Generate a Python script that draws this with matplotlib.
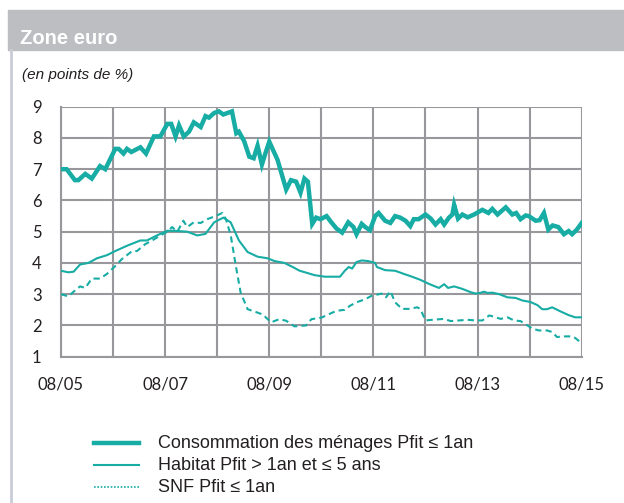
import matplotlib
matplotlib.use("Agg")
import matplotlib.pyplot as plt
from matplotlib.lines import Line2D
from matplotlib.patches import Rectangle

# Months elapsed since August 2005, with the rate spread (points of %)
conso_m = [0, 1.3, 3.2, 4, 5.6, 7.1, 9, 10.2, 12.5, 13.3, 14.4, 15.2, 16.2, 18.3, 19.6,
           21.4, 22.9, 24.5, 25.4, 26.4, 27.2, 28.3, 29.5, 30.6, 32.2, 33.3, 34.1, 35.3,
           36.4, 37.4, 39.4, 40.4, 41, 42.2, 43.4, 44.4, 45.3, 46.3, 47.2, 48, 49.9, 51.9,
           53, 54.2, 55.2, 56.1, 56.9, 57.9, 58.8, 59.8, 61.2, 62.3, 63.5, 64.8, 66.2,
           67.4, 68.1, 69.3, 70.1, 71.2, 72.4, 73.2, 74.7, 75.9, 77.0, 78.2, 79.4, 80.5,
           81.3, 82.4, 84.0, 85.2, 86.3, 87.5, 88.3, 89.4, 90.2, 90.6, 91.5, 92.5, 93.7,
           95.2, 97.1, 98.5, 99.4, 100.6, 102.5, 104.0, 104.9, 105.9, 107.1, 107.8, 109.4,
           110.3, 111.3, 112.3, 113.3, 114.6, 115.9, 117.0, 117.8, 118.9, 120]
conso_v = [7.0, 7.0, 6.65, 6.65, 6.85, 6.7, 7.1, 7.0, 7.65, 7.65, 7.5, 7.65, 7.55, 7.7, 7.5,
           8.05, 8.05, 8.45, 8.45, 8.05, 8.4, 8.05, 8.2, 8.5, 8.35, 8.7, 8.65, 8.8,
           8.85, 8.75, 8.85, 8.15, 8.2, 7.9, 7.4, 7.35, 7.75, 7.15, 7.55, 7.88, 7.3, 6.35,
           6.65, 6.6, 6.25, 6.7, 6.6, 5.25, 5.45, 5.4, 5.5, 5.3, 5.1, 4.97, 5.3,
           5.15, 4.92, 5.25, 5.15, 5.05, 5.5, 5.6, 5.35, 5.28, 5.5, 5.45, 5.35, 5.18,
           5.4, 5.4, 5.55, 5.42, 5.23, 5.4, 5.23, 5.45, 5.55, 5.86, 5.42, 5.55, 5.46,
           5.55, 5.7, 5.6, 5.73, 5.55, 5.78, 5.55, 5.6, 5.4, 5.52, 5.5, 5.35,
           5.37, 5.6, 5.07, 5.2, 5.15, 4.92, 5.02, 4.92, 5.07, 5.28]

habitat_m = [0, 1.7, 2.9, 4.4, 6.3, 8.3, 10.6, 12.5, 15.2, 18.3, 19.8, 22.1, 24.5, 26.0,
             29.1, 31.4, 33.3, 35.3, 37.4, 39.1, 41.0, 43.0, 45.3, 47.6, 49.2, 51.5, 53.4,
             55.0, 56.5, 58.4, 60.8, 64.3, 65.4, 66.3, 67.1, 68.1, 69.3, 70.8, 72.4, 72.8,
             74.7, 77.0, 79.0, 80.9, 82.8, 84.8, 87.1, 88.3, 89.2, 90.6, 92.5, 94.5, 95.6,
             96.8, 97.5, 98.3, 99.4, 101.0, 102.9, 104.8, 106.3, 108.2, 109.8, 110.9,
             112.0, 113.2, 115.1, 117.0, 118.5, 120]
habitat_v = [3.75, 3.7, 3.72, 3.95, 4.0, 4.15, 4.25, 4.38, 4.55, 4.72, 4.72, 4.88, 5.03, 5.03,
             5.0, 4.88, 4.93, 5.3, 5.45, 5.3, 4.72, 4.35, 4.2, 4.15, 4.06, 4.0, 3.87,
             3.75, 3.69, 3.61, 3.56, 3.56, 3.75, 3.87, 3.82, 4.03, 4.08, 4.06, 4.0, 3.87,
             3.77, 3.75, 3.65, 3.56, 3.46, 3.33, 3.2, 3.32, 3.2, 3.25, 3.17, 3.06, 3.02,
             3.05, 3.08, 3.04, 3.05, 3.0, 2.9, 2.88, 2.8, 2.75, 2.65, 2.52,
             2.52, 2.58, 2.45, 2.33, 2.26, 2.26]

snf_m = [0, 1.7, 2.9, 4.4, 5.6, 7.1, 9.0, 10.6, 12.5, 14.0, 16.4, 17.5, 19.4, 21.0, 22.9,
         24.5, 25.6, 26.8, 28.2, 29.1, 30.6, 32.2, 33.7, 35.6, 37.2, 38.0, 39.1, 40.3,
         41.4, 43.0, 44.5, 46.5, 48.4, 50.3, 51.9, 53.8, 56.5, 57.7, 60.0, 61.9, 63.5,
         65.4, 66.6, 68.1, 70.1, 71.6, 73.9, 74.9, 75.9, 77.0, 78.6, 80.1, 82.1, 82.8,
         84.0, 85.5, 88.3, 89.8, 91.7, 93.7, 95.6, 97.1, 98.7, 99.8, 101.3, 102.9, 104.4,
         105.9, 107.5, 108.6, 110.1, 112.0, 113.2, 114.3, 116.2, 117.8, 118.5, 120]
snf_v = [3.0, 2.93, 3.08, 3.25, 3.2, 3.5, 3.5, 3.65, 3.9, 4.12, 4.38, 4.38, 4.6, 4.72, 4.88,
         5.0, 5.15, 5.0, 5.35, 5.15, 5.3, 5.28, 5.4, 5.5, 5.6, 5.4, 4.9, 3.9,
         3.05, 2.52, 2.45, 2.35, 2.1, 2.2, 2.15, 1.97, 2.0, 2.2, 2.25, 2.37, 2.47,
         2.5, 2.63, 2.74, 2.84, 2.95, 3.02, 2.9, 3.1, 2.74, 2.53, 2.53, 2.58, 2.53,
         2.16, 2.18, 2.21, 2.14, 2.16, 2.18, 2.16, 2.16, 2.32, 2.28, 2.21, 2.26, 2.16,
         2.14, 2.0, 1.9, 1.84, 1.84, 1.79, 1.63, 1.65, 1.65, 1.6, 1.43]

x_ticks = [0, 24, 48, 72, 96, 120]
x_labels = ["08/05", "08/07", "08/09", "08/11", "08/13", "08/15"]
y_ticks = [1, 2, 3, 4, 5, 6, 7, 8, 9]
y_labels = ["1", "2", "3", "4", "5", "6", "7", "8", "9"]

labels = ["Consommation des ménages Pfit ≤ 1an",
          "Habitat Pfit > 1an et ≤ 5 ans",
          "SNF Pfit ≤ 1an"]

TEAL = "#17aca4"
GRID = "#98989c"
TEXT = "#231f20"

W, H = 624, 503
fig = plt.figure(figsize=(W / 100, H / 100), dpi=100)

# Header band and left rule of the panel
fig.patches.append(Rectangle((8 / W, 1 - 50 / H), 1 - 8 / W, 40 / H,
                             transform=fig.transFigure, color="#bdbec2", zorder=0))
fig.add_artist(Line2D([11 / W, 11 / W], [0, 1 - 50 / H], transform=fig.transFigure,
                      color="#c9ccd6", lw=2))
fig.text(20 / W, 1 - 38 / H, "Zone euro", color="white", fontsize=14.5,
         fontweight="bold", family="Liberation Sans", va="center", ha="left")
fig.text(22 / W, 1 - 75 / H, "(en points de %)", color=TEXT, fontsize=11,
         style="italic", family="Liberation Sans", va="center", ha="left")

ax = fig.add_axes([61 / W, 1 - 356.7 / H, (581.7 - 61) / W, (356.7 - 106.7) / H])
ax.plot(conso_m, conso_v, color=TEAL, lw=3.2, solid_joinstyle="miter", zorder=3)
ax.plot(habitat_m, habitat_v, color=TEAL, lw=1.5, zorder=3)
ax.plot(snf_m, snf_v, color=TEAL, lw=1.5, linestyle=(0, (3, 2)), zorder=3)

ax.set_xlim(0, 120)
ax.set_ylim(1, 9)
ax.set_xticks(x_ticks)
ax.set_xticklabels(x_labels)
ax.set_yticks(y_ticks)
ax.set_yticklabels(y_labels)
ax.set_xticks(range(12, 120, 24), minor=True)
ax.grid(True, which="both", color=GRID, lw=1.5)
ax.tick_params(which="both", length=0)
ax.tick_params(axis="y", pad=14, labelsize=12, labelcolor=TEXT)
ax.tick_params(axis="x", pad=14, labelsize=12, labelcolor=TEXT)
for lab in ax.get_xticklabels() + ax.get_yticklabels():
    lab.set_family("Lato")
for side in ["top", "right"]:
    ax.spines[side].set_visible(False)
for side in ["left", "bottom"]:
    ax.spines[side].set_color(GRID)
    ax.spines[side].set_linewidth(1.5)
ax.set_axisbelow(True)

# Legend drawn as figure-level keys
rows = [443, 465, 487]
styles = [dict(lw=3.2, ls="-"), dict(lw=1.5, ls="-"), dict(lw=1.2, ls=(0, (1, 1)))]
for y, lab, st in zip(rows, labels, styles):
    fig.add_artist(Line2D([94 / W, 139 / W], [1 - y / H, 1 - y / H],
                          transform=fig.transFigure, color=TEAL, **st))
    fig.text(158 / W, 1 - y / H, lab, color=TEXT, fontsize=13,
             family=["Liberation Sans", "DejaVu Sans"], va="center", ha="left")

fig.savefig("out.png", dpi=100)
